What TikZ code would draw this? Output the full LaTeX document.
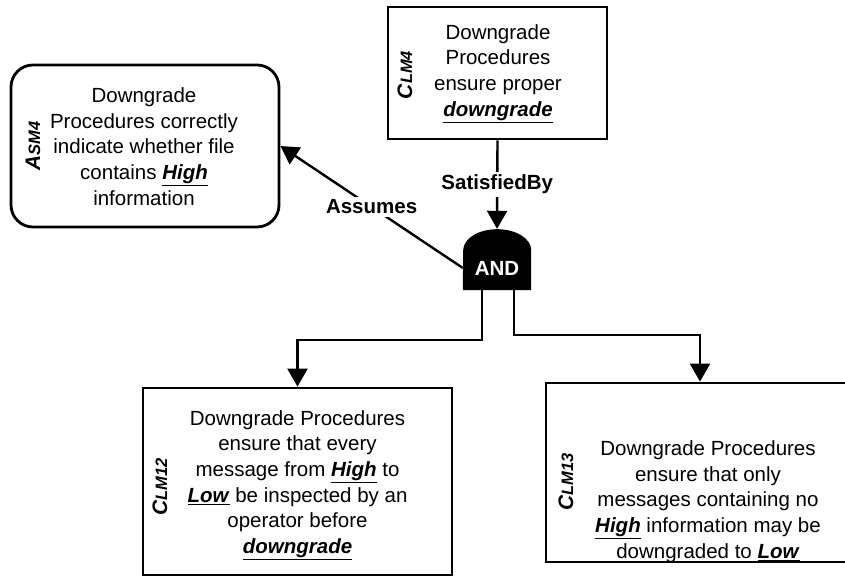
\documentclass[tikz,border=0pt]{standalone}
\usepackage{fontspec}
\setmainfont{Liberation Sans}
\usetikzlibrary{arrows.meta}
\newcommand{\hw}[1]{\underline{\textbf{\textit{#1}}}}
\newcommand{\boxtag}[2]{\textbf{\textit{{\fontsize{21}{21}\selectfont #1}{\fontsize{16.5}{16.5}\selectfont #2}}}}
\begin{document}
\begin{tikzpicture}[x=1pt,y=1pt,
  claimbox/.style={draw, line width=2.8pt, inner sep=0pt},
  txt/.style={align=center, inner sep=0pt, font={\fontsize{20.5}{25.7}\selectfont}},
  lbl/.style={rotate=90, inner sep=0pt},
  conn/.style={line width=2.4pt, -{Triangle[length=18pt,width=20pt]}},
  midlbl/.style={fill=white, inner sep=3pt, font={\fontsize{20.5}{24}\selectfont\bfseries}}]
\useasboundingbox (0,0) rectangle (845,580);

% boxes
\node[claimbox, rounded corners=22pt, minimum width=268pt, minimum height=162pt] (asm4) at (145,434) {};
\node[claimbox, minimum width=219pt, minimum height=132pt] (clm4) at (497.5,507) {};
\node[claimbox, minimum width=309pt, minimum height=187pt] (clm12) at (297.5,98.5) {};
\node[claimbox, minimum width=308pt, minimum height=179pt] (clm13) at (700,107.5) {};

% texts
\node[txt] (asm4t) at (144,433.5) {Downgrade\\Procedures correctly\\indicate whether file\\contains \hw{High}\\information};
\node[lbl] (asm4l) at (33,434) {\boxtag{A}{SM4}};
\node[txt] (clm4t) at (498,506.5) {Downgrade\\Procedures\\ensure proper\\\hw{downgrade}};
\node[lbl] (clm4l) at (405,505) {\boxtag{C}{LM4}};
\node[txt] (clm12t) at (297.5,95) {Downgrade Procedures\\ensure that every\\message from \hw{High} to\\\hw{Low} be inspected by an\\operator before\\\hw{downgrade}};
\node[lbl] (clm12l) at (160,93) {\boxtag{C}{LM12}};
\node[txt] (clm13t) at (708,78.5) {Downgrade Procedures\\ensure that only\\messages containing no\\\hw{High} information may be\\downgraded to \hw{Low}};
\node[lbl] (clm13l) at (566,98) {\boxtag{C}{LM13}};

% AND gate
\node[inner sep=0pt, minimum width=68pt, minimum height=61pt] (and) at (497,320.5) {};
\fill (and.south west) -- (and.south east) -- ++(0,40)
  arc[start angle=0, end angle=180, x radius=34, y radius=21] -- cycle;
\node[text=white, inner sep=0pt, font={\fontsize{20.5}{24}\selectfont\bfseries}] (andt) at (497,312) {AND};

% connectors
\draw[conn] (clm4.south) -- node[midlbl] (sat) {SatisfiedBy} (and.north);
\draw[conn] ([yshift=-8.5pt]and.west) -- node[midlbl] (ass) {Assumes} (asm4.east);
\draw[conn, line join=miter] ([xshift=-15pt]and.south) -- ++(0,-50) -| (clm12.north);
\draw[conn, line join=miter] ([xshift=17pt]and.south) -- ++(0,-45) -| (clm13.north);
\end{tikzpicture}
\end{document}
